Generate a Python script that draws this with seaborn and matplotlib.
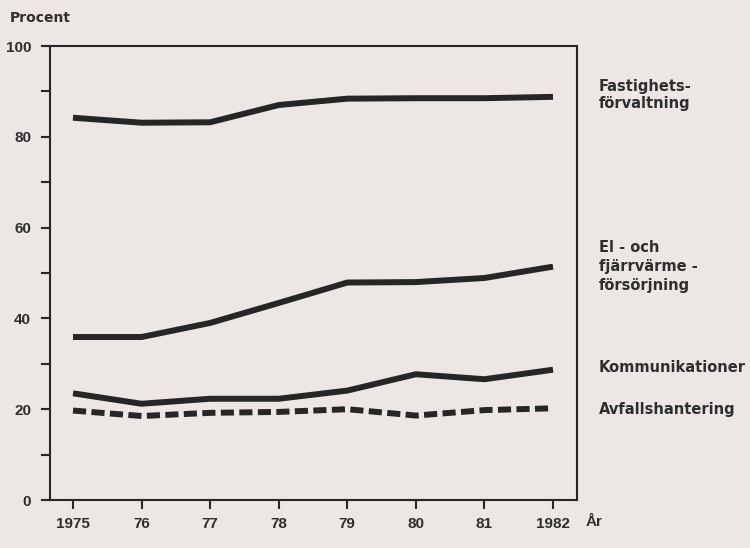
import matplotlib
matplotlib.use("Agg")
import matplotlib.pyplot as plt
import matplotlib.transforms as mtransforms
import seaborn as sns
import pandas as pd

years = [1975, 1976, 1977, 1978, 1979, 1980, 1981, 1982]
year_labels = ["1975", "76", "77", "78", "79", "80", "81", "1982"]
fastighet = [84.2, 83.1, 83.2, 87.0, 88.4, 88.5, 88.5, 88.8]
el_fjarr = [35.9, 35.9, 39.0, 43.4, 47.9, 48.0, 48.9, 51.4]
kommunikation = [23.5, 21.2, 22.3, 22.3, 24.1, 27.7, 26.6, 28.7]
avfall = [19.7, 18.5, 19.2, 19.4, 20.0, 18.6, 19.8, 20.2]
y_ticks = [0, 10, 20, 30, 40, 50, 60, 70, 80, 90, 100]
y_labels = ["0", "", "20", "", "40", "", "60", "", "80", "", "100"]

series_names = ["Fastighets-\nförvaltning", "El - och\nfjärrvärme -\nförsörjning",
                "Kommunikationer", "Avfallshantering"]
series_vals = [fastighet, el_fjarr, kommunikation, avfall]

sns.set_theme(style="white")
plt.rcParams['font.family'] = ['DejaVu Sans']

bg = "#ece7e5"
ink = "#262626"
txt = "#2e2e2e"
narrow = ['Liberation Sans Narrow', 'Liberation Sans', 'DejaVu Sans']

fig = plt.figure(figsize=(7.5, 5.48), dpi=100, facecolor=bg)
ax = fig.add_axes([50/750, 1 - 500/548, (577-50)/750, (500-46)/548])
ax.set_facecolor(bg)

for name, vals in zip(series_names, series_vals):
    df = pd.DataFrame({"year": years, "value": vals})
    sns.lineplot(data=df, x="year", y="value", ax=ax, color=ink, lw=4.3)
    line = ax.lines[-1]
    if name == "Avfallshantering":
        line.set_dashes((2.2, 0.9))
        line.set_dash_capstyle("butt")
    else:
        line.set_solid_capstyle("butt")

ax.set_xlim(1975 - 23/68.6, 1982 + 24/68.6)
ax.set_ylim(0, 100)
ax.set_xlabel("")
ax.set_ylabel("")
ax.set_xticks(years)
ax.set_xticklabels(year_labels)
ax.set_yticks(y_ticks)
ax.set_yticklabels(y_labels)

for lab in ax.get_xticklabels() + ax.get_yticklabels():
    lab.set_fontfamily(narrow)
    lab.set_fontweight('bold')
    lab.set_fontsize(11)
    lab.set_color(txt)

ax.tick_params(axis='both', direction='out', length=6.5, width=1.5, color=ink,
               left=True, bottom=True)
ax.tick_params(axis='x', pad=6)
ax.tick_params(axis='y', pad=7)
for s in ax.spines.values():
    s.set_visible(True)
    s.set_color(ink)
    s.set_linewidth(1.5)

trans = mtransforms.blended_transform_factory(ax.transAxes, ax.transData)
label_pos = [(89.2, 1.1), (51.4, 1.35), (29.1, 1.2), (19.9, 1.2)]
for name, (yy, ls) in zip(series_names, label_pos):
    ax.text((599-50)/527, yy, name, transform=trans, ha='left', va='center',
            fontsize=10.5, fontweight='bold', color=txt, linespacing=ls,
            clip_on=False)

fig.text(10/750, 1 - 18/548, "Procent", ha='left', va='center',
         fontsize=10, fontweight='bold', color=txt)
fig.text(586/750, 1 - 522/548, "År", ha='left', va='center',
         fontsize=11, fontweight='bold', color=txt, family=narrow)

fig.savefig("out.png", dpi=100, facecolor=bg)
